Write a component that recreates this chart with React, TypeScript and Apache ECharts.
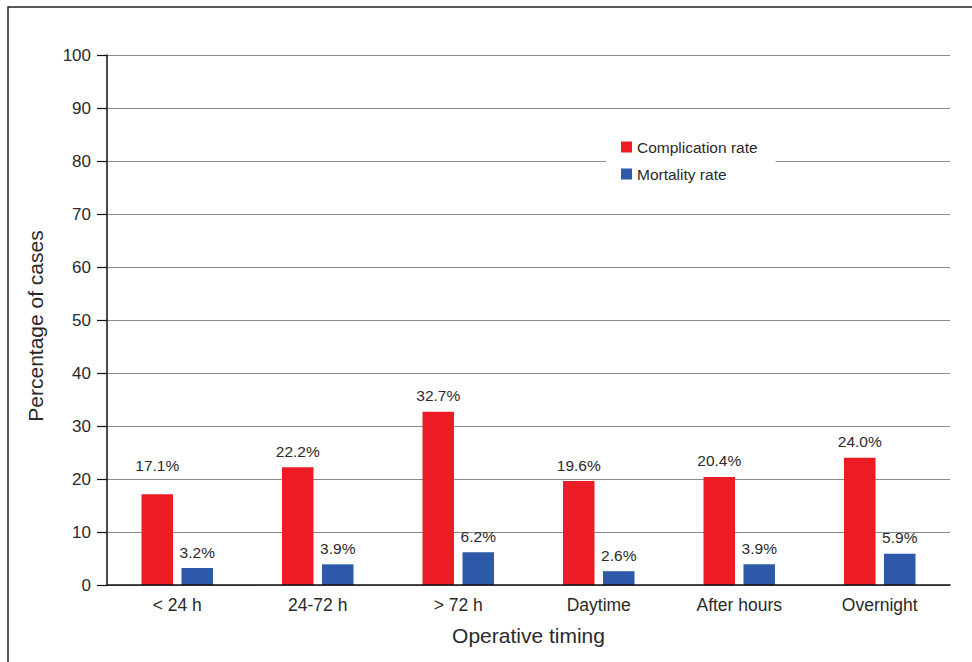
import React, { useEffect, useRef } from "react";
import * as echarts from "echarts";

const categories = ["< 24 h", "24-72 h", "> 72 h", "Daytime", "After hours", "Overnight"];
const complicationRate = [17.1, 22.2, 32.7, 19.6, 20.4, 24.0];
const mortalityRate = [3.2, 3.9, 6.2, 2.6, 3.9, 5.9];
const yTicks = { min: 0, max: 100, interval: 10 };
const seriesNames = ["Complication rate", "Mortality rate"];

const RED = "#ED1C24";
const BLUE = "#2D59A8";
const FONT = "'Liberation Sans', Arial, sans-serif";
const TEXT = "#2a2a2a";

export default function App() {
  const ref = useRef<HTMLDivElement>(null);
  useEffect(() => {
    if (!ref.current) return;
    const chart = echarts.init(ref.current, undefined, { renderer: "svg" });
    const label = (extra: number) => ({
      show: true,
      position: "top",
      distance: 8 + extra,
      color: TEXT,
      fontFamily: FONT,
      fontSize: 15.5,
      formatter: (p: any) => Number(p.value).toFixed(1) + "%",
    });
    chart.setOption({
      animation: false,
      textStyle: { fontFamily: FONT },
      graphic: [
        {
          type: "rect",
          shape: { x: 8, y: 7, width: 2000, height: 2000 },
          style: { fill: "none", stroke: "#222", lineWidth: 1.5 },
          z: 0,
        },
      ],
      legend: {
        orient: "vertical",
        left: 606,
        top: 127,
        padding: [12, 18, 12, 15],
        backgroundColor: "#fff",
        icon: "rect",
        itemWidth: 11,
        itemHeight: 11,
        itemGap: 11,
        itemTextGap: 14,
        z: 10,
        textStyle: { color: TEXT, fontFamily: FONT, fontSize: 15.5, lineHeight: 15 },
        data: seriesNames,
      },
      grid: { left: 107, right: 22, top: 55, bottom: 77, containLabel: false },
      xAxis: {
        type: "category",
        data: categories,
        name: "Operative timing",
        nameLocation: "middle",
        nameGap: 40,
        nameTextStyle: { color: TEXT, fontFamily: FONT, fontSize: 21 },
        axisLine: { show: true, lineStyle: { color: "#111", width: 1.5 } },
        axisTick: { show: false },
        axisLabel: { color: TEXT, fontFamily: FONT, fontSize: 17.5, margin: 11 },
        z: 5,
      },
      yAxis: {
        type: "value",
        min: yTicks.min,
        max: yTicks.max,
        interval: yTicks.interval,
        name: "Percentage of cases",
        nameLocation: "middle",
        nameGap: 61,
        nameTextStyle: { color: TEXT, fontFamily: FONT, fontSize: 21, padding: [0, 0, 0, -12] },
        axisLine: { show: true, lineStyle: { color: "#111", width: 1.5 } },
        axisTick: { show: true, length: 10, lineStyle: { color: "#111", width: 1.2 } },
        axisLabel: { color: TEXT, fontFamily: FONT, fontSize: 17, margin: 16, padding: [0, 0, 12, 0] },
        splitLine: { show: true, lineStyle: { color: "#8a8a8a", width: 1 } },
      },
      series: [
        {
          name: seriesNames[0],
          type: "bar",
          barWidth: 31.5,
          barGap: "27%",
          itemStyle: { color: RED },
          data: complicationRate.map((v, i) => ({ value: v, label: label(i === 0 ? 13 : 0) })),
        },
        {
          name: seriesNames[1],
          type: "bar",
          barWidth: 31.5,
          itemStyle: { color: BLUE },
          label: label(0),
          data: mortalityRate,
        },
      ],
    });
    return () => chart.dispose();
  }, []);
  return (
    <div
      ref={ref}
      style={{ position: "fixed", left: 0, top: 0, width: 972, height: 662, background: "#fff" }}
    />
  );
}
